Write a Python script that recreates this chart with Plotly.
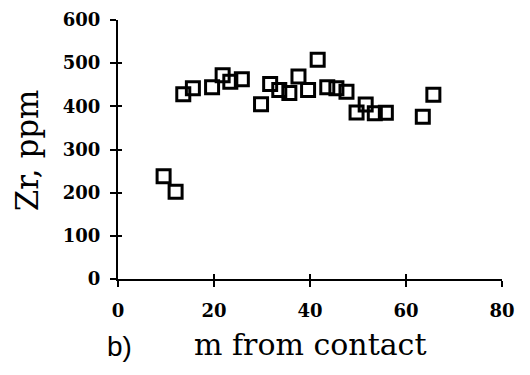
import plotly.graph_objects as go

distance_m = [9.5, 12, 13.6, 15.6, 19.6, 21.8, 23.4, 25.8, 29.8, 31.7, 33.6, 35.7,
              37.6, 39.6, 41.6, 43.6, 45.5, 47.6, 49.7, 51.6, 53.5, 55.8, 63.5, 65.7]
zr_ppm = [238, 202, 428, 442, 444, 472, 457, 463, 405, 452, 438, 431,
          469, 438, 508, 444, 442, 434, 386, 404, 384, 385, 376, 427]

x_ticks = [0, 20, 40, 60, 80]
y_ticks = [0, 100, 200, 300, 400, 500, 600]

FONT = "DejaVu Serif"

fig = go.Figure()
fig.add_trace(go.Scatter(
    x=distance_m, y=zr_ppm, mode="markers",
    marker=dict(symbol="square-open", size=13, color="black",
                line=dict(width=3, color="black")),
    showlegend=False, hoverinfo="skip"))
# invisible trace for overlay axes (inside ticks -> crossing ticks)
fig.add_trace(go.Scatter(x=[0], y=[0], xaxis="x2", yaxis="y2", mode="markers",
                         marker=dict(opacity=0), showlegend=False, hoverinfo="skip"))

axis_common = dict(showgrid=False, zeroline=False, showline=True, linecolor="black",
                   linewidth=2, tickwidth=2, tickcolor="black", automargin=False)

fig.update_layout(
    width=522, height=367,
    margin=dict(l=110, r=28, t=12, b=96),
    paper_bgcolor="white", plot_bgcolor="white",
    font=dict(family=FONT, color="black", size=18),
    xaxis=dict(range=[0, 80], tickvals=x_ticks, ticks="outside", ticklen=6,
               tickfont=dict(size=18, family=FONT, weight="bold"), anchor="y",
               ticklabelstandoff=8, **axis_common),
    yaxis=dict(range=[0, 600], tickvals=y_ticks, ticks="outside", ticklen=6,
               tickfont=dict(size=18, family=FONT, weight="bold"), anchor="x",
               ticklabelstandoff=6, **axis_common),
    xaxis2=dict(range=[0, 80], tickvals=x_ticks, ticks="inside", ticklen=5,
                overlaying="x", anchor="y2", showticklabels=False, **axis_common),
    yaxis2=dict(range=[0, 600], tickvals=y_ticks, ticks="inside", ticklen=4,
                overlaying="y", anchor="x2", showticklabels=False, **axis_common),
    annotations=[
        dict(text="m from contact", xref="paper", yref="paper", x=0.5, y=-0.254,
             xanchor="center", yanchor="middle", showarrow=False,
             font=dict(size=30, family=FONT)),
        dict(text="b)", xref="paper", yref="paper", x=0.005, y=-0.262,
             xanchor="center", yanchor="middle", showarrow=False,
             font=dict(size=28, family="Liberation Sans")),
        dict(text="Zr, ppm", xref="paper", yref="paper", x=-0.237, y=0.497,
             xanchor="center", yanchor="middle", showarrow=False, textangle=-90,
             font=dict(size=31, family=FONT)),
    ],
)

fig.write_html("out.html")
